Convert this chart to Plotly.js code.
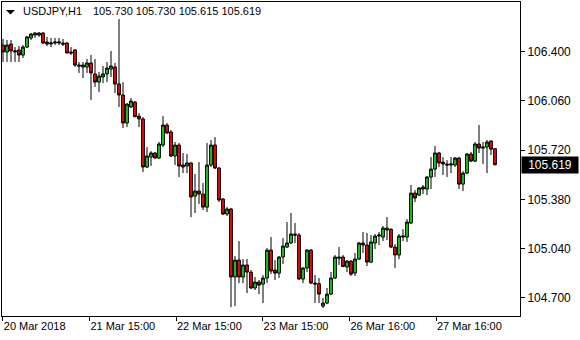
<!DOCTYPE html>
<html>
<head>
<meta charset="utf-8">
<script src="https://cdn.plot.ly/plotly-3.0.1.min.js"></script>
<style>
  html, body { margin: 0; padding: 0; background: #ffffff; }
  #chart { width: 580px; height: 340px; }
</style>
</head>
<body>
<div id="chart"></div>
<script>
// ---- Data (USDJPY, H1) ----
const symbolLabel = "USDJPY,H1";
const lastBar = [105.730, 105.730, 105.615, 105.619]; // O H L C of the last bar

const open = [
  106.446,106.398,106.453,106.398,106.412,106.377,106.432,106.495,106.515,106.515,
  106.529,106.467,106.453,106.460,106.460,106.460,106.460,106.398,106.412,106.308,
  106.294,106.294,106.322,106.246,106.190,106.225,106.246,106.280,106.294,106.177,
  106.101,105.907,106.018,106.052,105.955,105.935,105.603,105.672,105.700,105.665,
  105.755,105.893,105.845,105.679,105.755,105.617,105.610,105.631,105.402,105.437,
  105.416,105.326,105.617,105.755,105.596,105.382,105.278,105.313,104.843,104.960,
  104.843,104.926,104.877,104.767,104.808,104.794,104.836,105.029,104.891,104.870,
  104.981,105.050,105.078,105.140,105.133,104.829,104.905,105.029,104.801,104.797,
  104.642,104.663,104.725,104.836,104.981,104.981,104.912,104.953,104.870,104.967,
  105.064,105.064,104.946,105.078,105.126,105.119,105.168,105.174,105.050,104.995,
  105.119,105.119,105.216,105.423,105.409,105.465,105.451,105.534,105.589,105.700,
  105.637,105.624,105.617,105.617,105.665,105.485,105.561,105.693,105.644,105.762,
  105.734,105.741,105.783,105.730
];
const high = [
  106.488,106.481,106.481,106.432,106.439,106.446,106.509,106.529,106.536,106.536,
  106.536,106.502,106.495,106.495,106.495,106.488,106.467,106.432,106.419,106.329,
  106.329,106.350,106.377,106.350,106.260,106.301,106.329,106.405,106.322,106.626,
  106.190,106.045,106.080,106.059,105.976,105.948,105.741,105.713,105.707,105.776,
  105.955,105.907,105.859,105.776,105.769,105.700,105.693,105.637,105.555,105.637,
  105.492,105.769,105.790,105.810,105.603,105.389,105.326,105.320,104.988,105.091,
  104.967,104.967,104.891,104.843,104.822,104.857,105.043,105.119,104.960,104.988,
  105.112,105.223,105.285,105.216,105.147,104.912,105.036,105.036,104.857,104.836,
  104.698,104.767,104.877,104.995,105.050,104.995,104.960,104.960,105.009,105.085,
  105.154,105.147,105.133,105.140,105.154,105.195,105.257,105.177,105.071,105.140,
  105.174,105.244,105.479,105.444,105.465,105.479,105.541,105.672,105.748,105.707,
  105.672,105.651,105.672,105.672,105.672,105.575,105.700,105.707,105.776,105.893,
  105.776,105.790,105.785,105.730
];
const low = [
  106.329,106.329,106.329,106.329,106.329,106.357,106.426,106.481,106.495,106.502,
  106.453,106.439,106.432,106.446,106.446,106.439,106.388,106.377,106.294,106.253,
  106.218,106.253,106.066,106.156,106.121,106.183,106.190,106.225,106.114,106.018,
  105.872,105.879,106.011,105.948,105.879,105.568,105.596,105.610,105.662,105.658,
  105.741,105.831,105.672,105.617,105.534,105.561,105.561,105.257,105.285,105.347,
  105.306,105.292,105.603,105.589,105.361,105.271,105.264,104.635,104.642,104.801,
  104.801,104.732,104.760,104.753,104.725,104.663,104.801,104.863,104.822,104.836,
  104.933,105.043,105.071,105.078,104.822,104.801,104.877,104.794,104.663,104.663,
  104.628,104.656,104.718,104.829,104.926,104.912,104.877,104.850,104.850,104.960,
  105.009,104.919,104.939,105.036,105.064,105.091,105.098,105.043,104.905,104.967,
  105.091,105.085,105.209,105.361,105.402,105.416,105.409,105.451,105.534,105.603,
  105.548,105.534,105.561,105.603,105.451,105.437,105.555,105.637,105.637,105.700,
  105.624,105.561,105.686,105.615
];
const close = [
  106.398,106.446,106.405,106.405,106.377,106.432,106.502,106.522,106.529,106.529,
  106.460,106.453,106.460,106.467,106.467,106.453,106.391,106.391,106.308,106.301,
  106.308,106.322,106.253,106.190,106.232,106.246,106.287,106.301,106.177,106.101,
  105.907,106.038,106.059,105.951,105.935,105.603,105.679,105.700,105.665,105.762,
  105.893,105.838,105.679,105.755,105.610,105.603,105.631,105.396,105.437,105.416,
  105.326,105.617,105.755,105.596,105.375,105.278,105.313,104.843,104.960,104.843,
  104.926,104.877,104.767,104.808,104.787,104.836,105.029,104.884,104.870,104.981,
  105.057,105.078,105.140,105.133,104.829,104.905,105.029,104.801,104.794,104.725,
  104.663,104.725,104.836,104.981,104.974,104.915,104.953,104.863,104.967,105.078,
  105.078,104.946,105.085,105.126,105.133,105.181,105.181,105.050,104.995,105.126,
  105.126,105.223,105.423,105.389,105.458,105.451,105.534,105.589,105.700,105.631,
  105.624,105.617,105.624,105.665,105.485,105.561,105.693,105.644,105.762,105.734,
  105.741,105.776,105.727,105.619
];

const xTickPos    = [-0.05, 21.6, 43.25, 64.9, 86.6, 108.25];
const xTickLabels = ["20 Mar 2018", "21 Mar 15:00", "22 Mar 15:00", "23 Mar 15:00", "26 Mar 16:00", "27 Mar 16:00"];
const yTickVals   = [104.700, 105.040, 105.380, 105.720, 106.060, 106.400];

// ---- Chart ----
const barIndex = open.map((_, i) => i);
const fmt = v => v.toFixed(3);

const trace = {
  type: "candlestick",
  x: barIndex,
  open: open, high: high, low: low, close: close,
  increasing: { line: { color: "#000000", width: 1 }, fillcolor: "#22cc22" },
  decreasing: { line: { color: "#000000", width: 1 }, fillcolor: "#f00a0a" },
  whiskerwidth: 0,
  hoverinfo: "skip",
  showlegend: false
};

const font = "'Liberation Sans', Arial, sans-serif";

const layout = {
  width: 580, height: 340,
  margin: { l: 2, r: 60, t: 2, b: 24, pad: 0 },
  paper_bgcolor: "#ffffff",
  plot_bgcolor: "#ffffff",
  showlegend: false,
  boxgap: 0.3,
  boxgroupgap: 0,
  xaxis: {
    type: "linear",
    range: [-0.25, 129.25],
    rangeslider: { visible: false },
    showgrid: false, zeroline: false,
    showline: true, linecolor: "#000000", linewidth: 1, mirror: true,
    ticks: "outside", ticklen: 4, tickcolor: "#000000", tickwidth: 1,
    tickvals: xTickPos, ticktext: xTickLabels,
    ticklabelposition: "outside right",
    tickfont: { family: font, size: 11, color: "#000000" },
    fixedrange: true
  },
  yaxis: {
    side: "right",
    range: [104.5735, 106.7435],
    showgrid: false, zeroline: false,
    showline: true, linecolor: "#000000", linewidth: 1, mirror: true,
    ticks: "outside", ticklen: 4, tickcolor: "#000000", tickwidth: 1,
    tickvals: yTickVals, ticktext: yTickVals.map(fmt),
    tickfont: { family: font, size: 12, color: "#000000" },
    fixedrange: true
  },
  shapes: [
    { type: "path", xref: "paper", yref: "paper",
      path: "M 0.0077,0.9745 L 0.0251,0.9745 L 0.0164,0.9602 Z",
      fillcolor: "#000000", line: { width: 0 } }
  ],
  annotations: [
    { xref: "paper", yref: "paper", x: 0.036, y: 0.970, xanchor: "left", yanchor: "middle",
      text: symbolLabel, showarrow: false,
      font: { family: font, size: 11, color: "#000000" } },
    { xref: "paper", yref: "paper", x: 0.172, y: 0.970, xanchor: "left", yanchor: "middle",
      text: lastBar.map(fmt).join(" "), showarrow: false,
      font: { family: font, size: 11, color: "#000000" } },
    { xref: "paper", yref: "y", x: 1, y: close[close.length - 1], xanchor: "left", yanchor: "middle",
      xshift: 1, text: fmt(close[close.length - 1]), showarrow: false,
      bgcolor: "#000000", borderpad: 1, width: 54, align: "center",
      font: { family: font, size: 12, color: "#ffffff" } }
  ]
};

Plotly.newPlot("chart", [trace], layout, { displayModeBar: false, staticPlot: true });
</script>
</body>
</html>
